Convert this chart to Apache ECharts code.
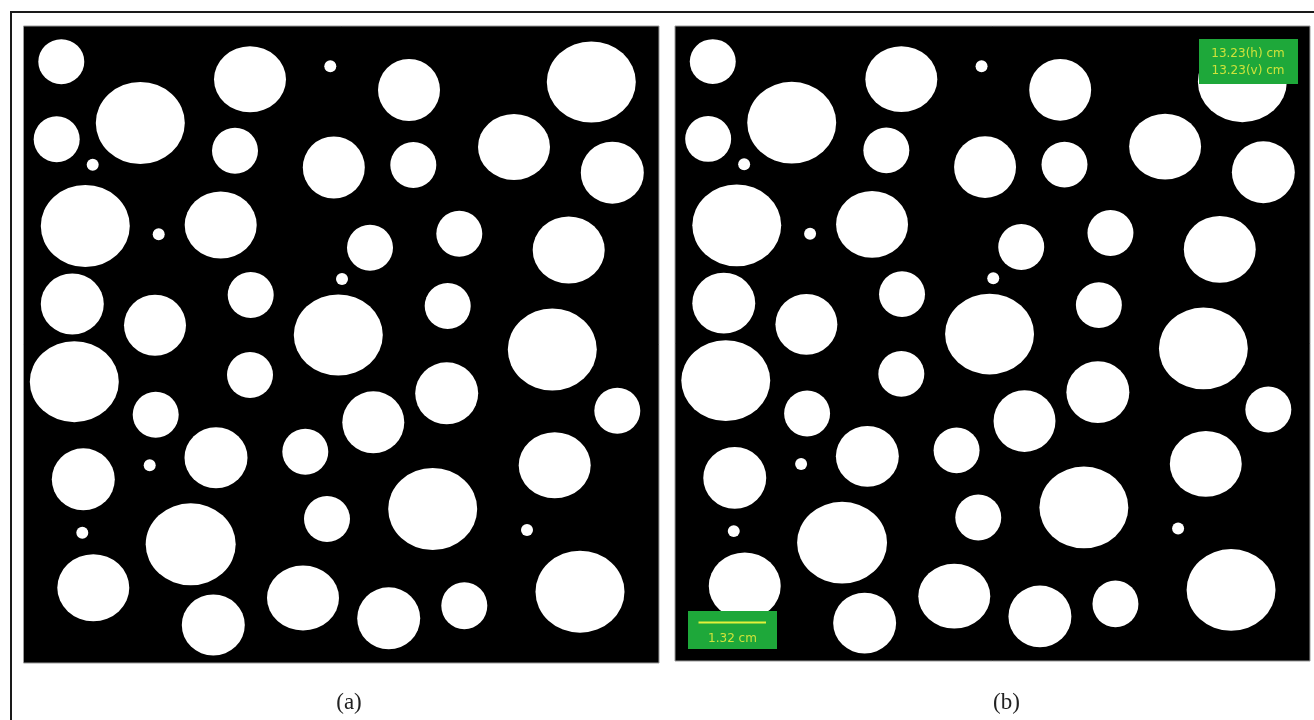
<!DOCTYPE html>
<html>
<head>
<meta charset="utf-8">
<script src="https://cdn.jsdelivr.net/npm/echarts@6/dist/echarts.min.js"></script>
<style>
html,body{margin:0;padding:0;background:#fff;}
#chart{width:1314px;height:720px;}
</style>
</head>
<body>
<div id="chart"></div>
<script>
// Circle data, in original image pixel units measured from each panel's top-left corner
var circleX = [37.8,116.8,226.5,306.8,33.2,69.2,211.5,310.3,61.8,135.2,197.2,48.8,131.5,227.2,318.5,314.8,
  385.5,567.8,389.8,490.5,588.8,346.5,435.8,545.2,424.2,528.8,
  50.8,132.2,226.5,59.8,126.2,192.5,281.8,349.8,303.5,58.8,167.2,69.8,189.8,279.5,
  423.2,593.8,531.2,409.2,503.5,556.5,365.2,440.8];
var circleY = [35.7,97,53.3,40.3,113.3,138.7,124.7,141.5,200,208.3,199,278,299.3,269,253,309,
  64,56,139,121,146.7,221.7,207.7,224,280,323.5,
  355.7,388.7,349,453.3,439.3,431.7,425.7,396.3,493,506.7,518.3,561.7,599,572,
  367.3,384.7,439.3,483,504,565.7,592.3,579.7];
var circleW = [46,89,72,12,46,12,46,62,89,12,72,63,62,46,12,89,
  62,89,46,72,63,46,46,72,46,89,
  89,46,46,63,12,63,46,62,46,12,90,72,63,72,
  63,46,72,89,12,89,63,46];
var circleH = [45,82,66,12,46,12,46,62,82,12,67,61,61,46,12,81,
  62,81,46,66,62,46,46,67,46,82,
  81,46,46,62,12,61,46,62,46,12,82,67,61,65,
  62,46,66,82,12,82,62,47];
var panelRangeX = 635.5, panelRangeY = 637;
var panelLabels = ['(a)', '(b)'];
var sizeLabelLines = ['13.23(h) cm', '13.23(v) cm'];
var scaleBarLabel = '1.32 cm';

var pointData = circleX.map(function (x, i) { return [x, circleY[i], circleW[i], circleH[i]]; });

var grids = [
  {left: 23.5, top: 26, width: 635.5, height: 637},
  {left: 675, top: 26, width: 635, height: 635}
];

var chart = echarts.init(document.getElementById('chart'), null, {renderer: 'canvas'});

function makeSeries(idx) {
  var g = grids[idx];
  var sx = g.width / panelRangeX, sy = g.height / panelRangeY;
  return {
    type: 'scatter',
    xAxisIndex: idx,
    yAxisIndex: idx,
    data: pointData,
    symbol: 'circle',
    symbolSize: function (v) { return [v[2] * sx, v[3] * sy]; },
    itemStyle: {color: '#ffffff', opacity: 1},
    silent: true,
    animation: false,
    clip: true,
    emphasis: {disabled: true}
  };
}

var labelFont = '12px "DejaVu Sans", sans-serif';
var labelColor = '#cfe33a';

var option = {
  backgroundColor: '#ffffff',
  animation: false,
  grid: grids.map(function (g) {
    return {left: g.left, top: g.top, width: g.width, height: g.height,
      show: true, backgroundColor: '#000000', borderColor: '#9a9a9a', borderWidth: 1, containLabel: false};
  }),
  xAxis: grids.map(function (g, i) {
    return {type: 'value', gridIndex: i, min: 0, max: panelRangeX, show: false};
  }),
  yAxis: grids.map(function (g, i) {
    return {type: 'value', gridIndex: i, min: 0, max: panelRangeY, inverse: true, show: false};
  }),
  series: [makeSeries(0), makeSeries(1)],
  graphic: [
    {type: 'rect', z: 100, silent: true,
      shape: {x: 11, y: 12, width: 1400, height: 800},
      style: {fill: 'none', stroke: '#1a1a1a', lineWidth: 2}},
    {type: 'text', z: 100, silent: true, x: 349, y: 703,
      style: {text: panelLabels[0], font: '23px "Liberation Serif", serif', fill: '#222', align: 'center', verticalAlign: 'middle'}},
    {type: 'text', z: 100, silent: true, x: 1006.5, y: 703,
      style: {text: panelLabels[1], font: '23px "Liberation Serif", serif', fill: '#222', align: 'center', verticalAlign: 'middle'}},
    // size label box (top-right of panel b)
    {type: 'rect', z: 100, silent: true,
      shape: {x: 1199, y: 39, width: 99, height: 45},
      style: {fill: '#1ea83a'}},
    {type: 'text', z: 101, silent: true, x: 1248, y: 53.5,
      style: {text: sizeLabelLines[0], font: labelFont, fill: labelColor, align: 'center', verticalAlign: 'middle'}},
    {type: 'text', z: 101, silent: true, x: 1248, y: 70.5,
      style: {text: sizeLabelLines[1], font: labelFont, fill: labelColor, align: 'center', verticalAlign: 'middle'}},
    // scale bar box (bottom-left of panel b)
    {type: 'rect', z: 100, silent: true,
      shape: {x: 688, y: 611, width: 89, height: 38},
      style: {fill: '#1ea83a'}},
    {type: 'line', z: 101, silent: true,
      shape: {x1: 698.5, y1: 622.5, x2: 766, y2: 622.5},
      style: {stroke: '#e3f03a', lineWidth: 2}},
    {type: 'text', z: 101, silent: true, x: 732.5, y: 638.5,
      style: {text: scaleBarLabel, font: labelFont, fill: labelColor, align: 'center', verticalAlign: 'middle'}}
  ]
};
chart.setOption(option);
</script>
</body>
</html>
